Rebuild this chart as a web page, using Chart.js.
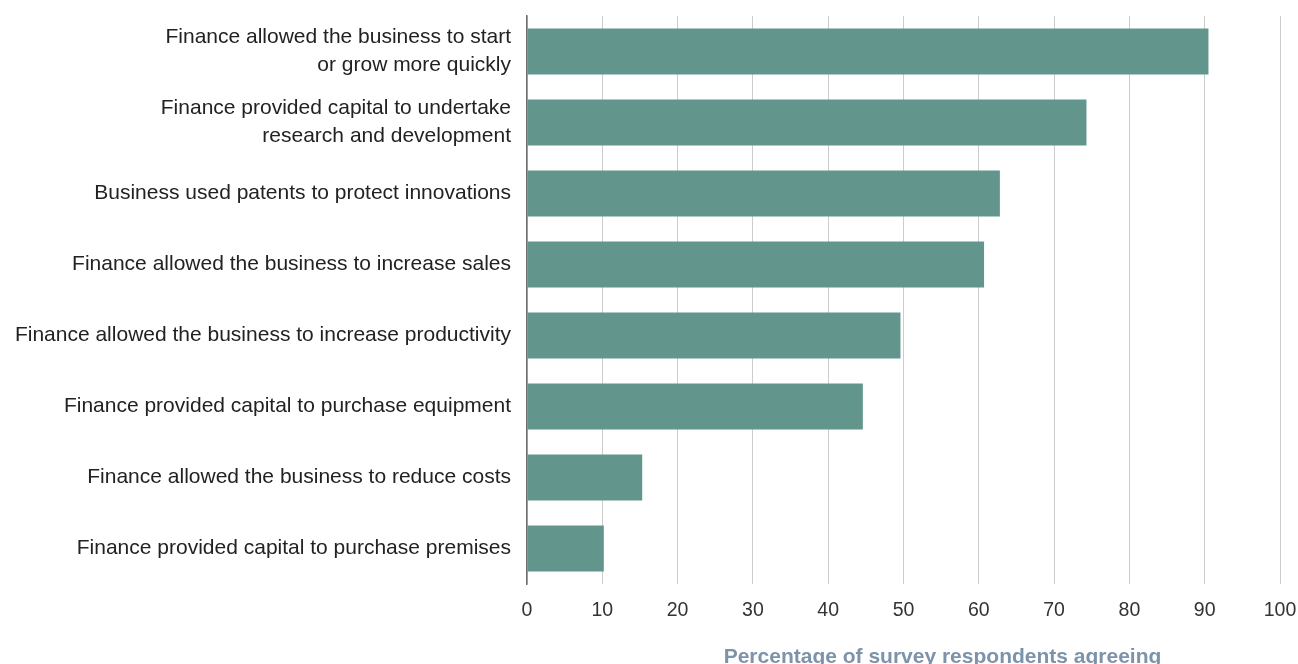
<!DOCTYPE html>
<html>
<head>
<meta charset="utf-8">
<script src="https://cdn.jsdelivr.net/npm/chart.js@4.4.1/dist/chart.umd.min.js"></script>
<style>
  html, body { margin: 0; padding: 0; background: #fff; }
</style>
</head>
<body>
<canvas id="chart" width="1298" height="664"></canvas>
<script>
const categories = [
  ["Finance allowed the business to start", "or grow more quickly"],
  ["Finance provided capital to undertake", "research and development"],
  "Business used patents to protect innovations",
  "Finance allowed the business to increase sales",
  "Finance allowed the business to increase productivity",
  "Finance provided capital to purchase equipment",
  "Finance allowed the business to reduce costs",
  "Finance provided capital to purchase premises"
];
const agreeing = [90.5, 74.3, 62.8, 60.7, 49.6, 44.6, 15.3, 10.2];
const xTicks = [0, 10, 20, 30, 40, 50, 60, 70, 80, 90, 100];
const axisTitle = "Percentage of survey respondents agreeing";

const FONT = "'Liberation Sans', Arial, sans-serif";

// x axis title sits a bit right of centre in the original
const titlePlugin = {
  id: 'xTitle',
  afterDraw(chart) {
    const c = chart.ctx;
    const area = chart.chartArea;
    c.save();
    c.font = "bold 21px " + FONT;
    c.fillStyle = "#7c93aa";
    c.textAlign = "center";
    c.textBaseline = "alphabetic";
    c.fillText(axisTitle, (area.left + area.right) / 2 + 39, 663);
    c.restore();
  }
};

new Chart(document.getElementById('chart'), {
  type: 'bar',
  data: {
    labels: categories,
    datasets: [{
      label: "Agreeing",
      data: agreeing,
      backgroundColor: "#62968c",
      barPercentage: 0.65,
      categoryPercentage: 1
    }]
  },
  options: {
    indexAxis: 'y',
    responsive: false,
    animation: false,
    devicePixelRatio: 1,
    layout: { padding: { left: 12, right: 18, top: 16, bottom: 0 } },
    plugins: { legend: { display: false }, tooltip: { enabled: false } },
    scales: {
      x: {
        min: 0, max: 100,
        afterBuildTicks(axis) { axis.ticks = xTicks.map(v => ({ value: v })); },
        afterFit(axis) {
          axis.height = 80;
          axis.paddingLeft = 0;
          axis.paddingRight = 0;
        },
        border: { display: false },
        grid: { color: "#cccccc", lineWidth: 1, drawTicks: false },
        ticks: { color: "#333", font: { family: FONT, size: 19.5 }, padding: 15 }
      },
      y: {
        afterFit(axis) {
          axis.width = 527 - 12;
          axis.paddingTop = 0;
          axis.paddingBottom = 0;
        },
        border: { display: true, color: "#6e6e6e", width: 1.5 },
        grid: { display: false },
        ticks: {
          color: "#222",
          font: { family: FONT, size: 21, lineHeight: 1.33 },
          padding: 8
        }
      }
    }
  },
  plugins: [titlePlugin]
});
</script>
</body>
</html>
